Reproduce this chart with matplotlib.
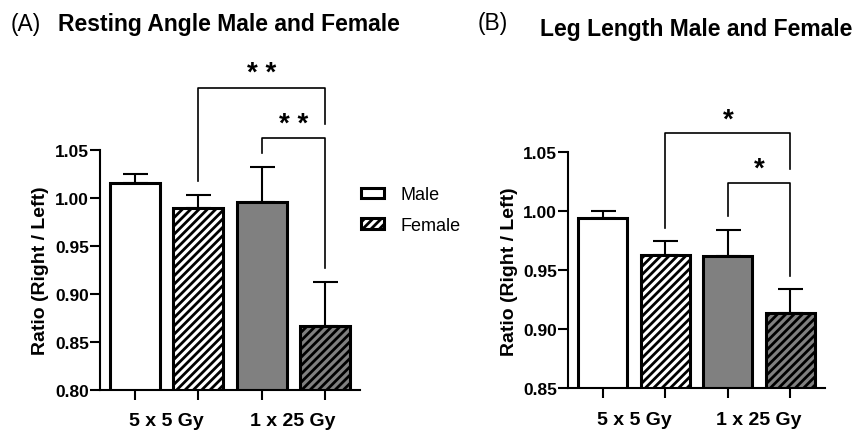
import matplotlib
matplotlib.use("Agg")
import matplotlib.pyplot as plt
from matplotlib.patches import Patch

plt.rcParams['font.family'] = ['Liberation Sans', 'DejaVu Sans']
plt.rcParams['hatch.linewidth'] = 2.0

# data
groups = ["5 x 5 Gy", "1 x 25 Gy"]
series = ["Male", "Female"]
# bar order: 5x5 male, 5x5 female, 1x25 male, 1x25 female
angle_mean = [1.016, 0.990, 0.996, 0.866]
angle_err = [0.009, 0.013, 0.036, 0.046]
length_mean = [0.994, 0.963, 0.962, 0.914]
length_err = [0.006, 0.012, 0.022, 0.020]

# brackets: (left bar, right bar, y of bar, left leg end, right leg end, label, label y)
angle_brackets = [(1, 3, 1.1146, 1.0175, 1.077, "* *", 1.130),
                  (2, 3, 1.0624, 1.047, 0.927, "* *", 1.077)]
length_brackets = [(1, 3, 1.066, 0.986, 1.036, "*", 1.078),
                   (2, 3, 1.024, 0.996, 0.945, "*", 1.036)]

gray = "#808080"
faces = ["white", "white", gray, gray]
hatches = ["", "////", "", "////"]
pos = [0, 1, 2, 3]

fig = plt.figure(figsize=(8.55, 4.31), dpi=100)
ax1 = fig.add_axes([0.117, 0.0935, 0.304, 0.556])
ax2 = fig.add_axes([0.6647, 0.0968, 0.3002, 0.5476])


def draw(ax, means, errs, brackets, ylo, yticks, width):
    ax.bar(pos, means, width=width, bottom=0, color=faces, hatch=hatches,
           edgecolor="black", linewidth=2.2, zorder=2)
    ax.errorbar(pos, means, yerr=[[0] * 4, errs], fmt="none", ecolor="black",
                elinewidth=1.5, capsize=9, capthick=1.5, zorder=1)
    ax.set_ylim(ylo, 1.05)
    ax.set_xlim(-0.553, 3.555)
    ax.set_yticks(yticks)
    ax.set_yticklabels(["%.2f" % t for t in yticks], fontweight="bold", fontsize=12.5)
    ax.set_xticks(pos)
    ax.set_xticklabels([])
    ax.set_xticks([0.5, 2.5], groups, minor=True)
    ax.tick_params(axis="x", which="minor", length=0, pad=16)
    for lab in ax.get_xticklabels(minor=True):
        lab.set_fontweight("bold")
        lab.set_fontsize(14)
    ax.tick_params(axis="both", which="major", length=7, width=1.5, pad=1)
    for s in ["top", "right"]:
        ax.spines[s].set_visible(False)
    for s in ["left", "bottom"]:
        ax.spines[s].set_linewidth(1.5)
    ax.set_ylabel("Ratio (Right / Left)", fontweight="bold", fontsize=14, labelpad=4)
    for x0, x1, yb, yl0, yl1, txt, yt in brackets:
        ax.plot([x0, x0, x1, x1], [yl0, yb, yb, yl1], color="black",
                linewidth=1.2, clip_on=False)
        ax.text((x0 + x1) / 2, yt, txt, ha="center", va="center",
                fontsize=20, fontweight="bold", clip_on=False)


draw(ax1, angle_mean, angle_err, angle_brackets, 0.80,
     [0.80, 0.85, 0.90, 0.95, 1.00, 1.05], 0.79)
draw(ax2, length_mean, length_err, length_brackets, 0.85,
     [0.85, 0.90, 0.95, 1.00, 1.05], 0.785)

handles = [Patch(facecolor="white", edgecolor="black", linewidth=2.2, label=series[0]),
           Patch(facecolor="white", edgecolor="black", linewidth=2.2, hatch="////", label=series[1])]
fig.legend(handles=handles, loc="center left", bbox_to_anchor=(0.403, 0.510),
           frameon=False, fontsize=13, handlelength=1.3, handleheight=0.5,
           handletextpad=0.9, labelspacing=0.75)

fig.text(0.012, 0.942, "(A)", fontsize=16.5, va="center", ha="left")
fig.text(0.068, 0.942, "Resting Angle Male and Female", fontsize=16.5,
         fontweight="bold", va="center", ha="left")
fig.text(0.559, 0.946, "(B)", fontsize=16.5, va="center", ha="left")
fig.text(0.632, 0.932, "Leg Length Male and Female", fontsize=16.5,
         fontweight="bold", va="center", ha="left")

fig.savefig("out.png", dpi=100)
